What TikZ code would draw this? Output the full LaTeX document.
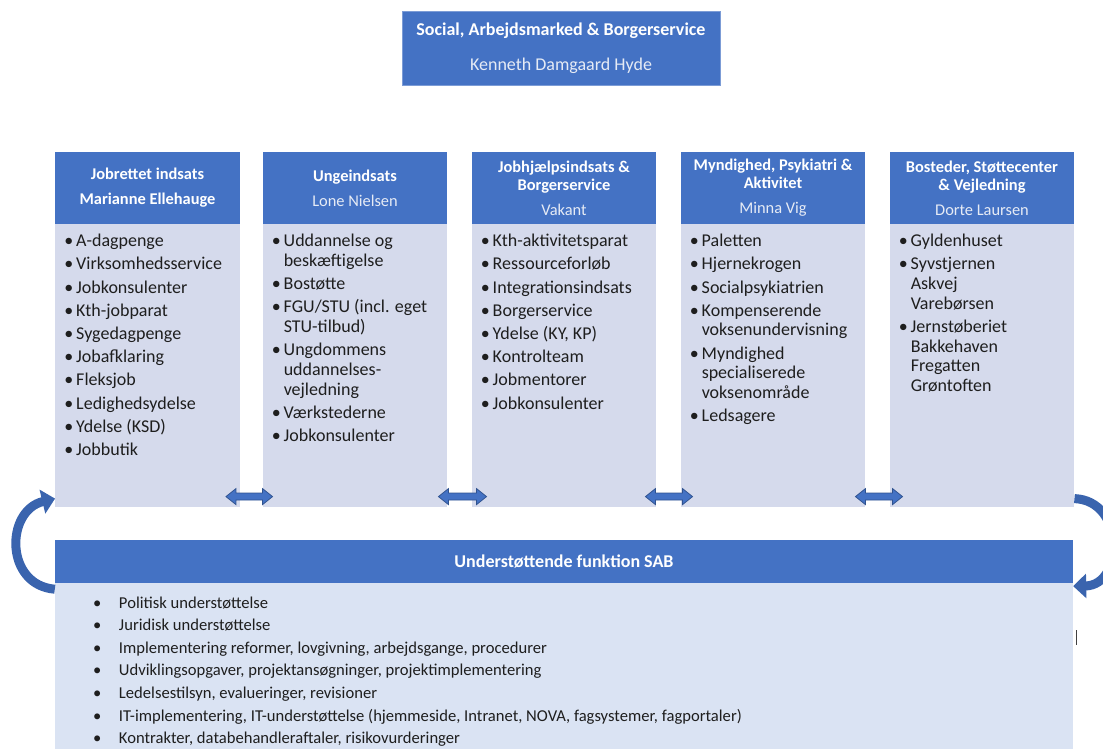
\documentclass[tikz,border=0pt]{standalone}
\usepackage{fontspec}
\setmainfont{Carlito}
\usepackage{xcolor}
\usepackage{tikz}
\usetikzlibrary{arrows.meta,positioning,calc}
\definecolor{headblue}{HTML}{4472C4}
\definecolor{colbody}{HTML}{D5DAEC}
\definecolor{sabbody}{HTML}{DAE3F3}
\definecolor{namecol}{HTML}{E6EBF5}
\definecolor{arrowblue}{HTML}{4472C4}
\definecolor{arrowdark}{HTML}{2F528F}
\definecolor{curveblue}{HTML}{3A64AE}
\definecolor{textdark}{HTML}{1E1E1E}
\newcommand{\bul}{\makebox[12pt][l]{\textbullet}}
\newcommand{\colitem}[1]{\par\noindent\hangindent=12pt\hangafter=1\bul#1\par}
\newcommand{\sabitem}[1]{\par\noindent\makebox[26pt][l]{\textbullet}#1\par}

\begin{document}
\begin{tikzpicture}[x=1pt,y=-1pt,
  colhead/.style={fill=headblue,text=white,minimum width=184.5pt,minimum height=72pt,
    align=center,inner sep=2pt,font=\fontsize{16.4}{18}\selectfont},
  colbox/.style={fill=colbody,minimum width=184.5pt,minimum height=283pt,anchor=north,inner sep=0pt},
  collist/.style={anchor=north west,text width=172pt,align=flush left,inner sep=0pt,text=textdark,
    font=\fontsize{18}{19.7}\selectfont\setlength{\parskip}{3.5pt}},
  sablist/.style={anchor=north west,text width=960pt,align=flush left,inner sep=0pt,text=textdark,
    font=\fontsize{16.6}{22.6}\selectfont},
  dblarrow/.style={fill=arrowblue,draw=arrowdark,line width=0.75pt,
    to path={let \p1=(\tikztostart), \p2=(\tikztotarget) in
      -- (\x1+10pt,\y1+8pt) -- (\x1+10pt,\y1+3.5pt) -- (\x2-10pt,\y1+3.5pt) -- (\x2-10pt,\y1+8pt)
      -- (\x2,\y1) -- (\x2-10pt,\y1-8pt) -- (\x2-10pt,\y1-3.5pt) -- (\x1+10pt,\y1-3.5pt)
      -- (\x1+10pt,\y1-8pt) -- cycle}},
  curvearrow/.style={draw=curveblue,line width=9pt,-{Triangle[width=24pt,length=13pt]}}]
  \useasboundingbox (0,0) rectangle (1103,749);
  \clip (0,0) rectangle (1103,749);

  % top box
  \node[fill=headblue,draw=headblue!70!white,text=white,minimum width=318pt,minimum height=74pt,
    align=center,font=\fontsize{18}{20}\selectfont] (sab) at (561,48)
    {\textbf{Social, Arbejdsmarked \& Borgerservice}\\[15pt] {\color{namecol}Kenneth Damgaard Hyde}};

  % columns
  \node[colhead] (h1) at (147.5,188) {\textbf{Jobrettet indsats}\\[7pt] \textbf{Marianne Ellehauge}};
  \node[colhead] (h2) at (355,188) {\textbf{Ungeindsats}\\[7pt] {\color{namecol}Lone Nielsen}};
  \node[colhead] (h3) at (564,188) {\textbf{Jobhjælpsindsats \&}\\ \textbf{Borgerservice}\\[7pt] {\color{namecol}Vakant}};
  \node[colhead] (h4) at (773,188) {\textbf{Myndighed, Psykiatri \&}\\ \textbf{Aktivitet}\\[7pt] {\color{namecol}Minna Vig}};
  \node[colhead] (h5) at (982,188) {\textbf{Bosteder, Støttecenter}\\ \textbf{\& Vejledning}\\[7pt] {\color{namecol}Dorte Laursen}};

  \node[colbox] (b1) at (h1.south) {};
  \node[colbox] (b2) at (h2.south) {};
  \node[colbox] (b3) at (h3.south) {};
  \node[colbox] (b4) at (h4.south) {};
  \node[colbox] (b5) at (h5.south) {};

  \node[collist] (l1) at ($(b1.north west)+(9,-1)$) {%
    \colitem{A-dagpenge}\colitem{Virksomhedsservice}\colitem{Jobkonsulenter}
    \colitem{Kth-jobparat}\colitem{Sygedagpenge}\colitem{Jobafklaring}\colitem{Fleksjob}
    \colitem{Ledighedsydelse}\colitem{Ydelse (KSD)}\colitem{Jobbutik}};
  \node[collist] (l2) at ($(b2.north west)+(9,-1)$) {%
    \colitem{Uddannelse og\newline beskæftigelse}\colitem{Bostøtte}
    \colitem{FGU/STU (incl. eget\newline STU-tilbud)}\colitem{Ungdommens\newline uddannelses-\newline vejledning}
    \colitem{Værkstederne}\colitem{Jobkonsulenter}};
  \node[collist] (l3) at ($(b3.north west)+(9,-1)$) {%
    \colitem{Kth-aktivitetsparat}\colitem{Ressourceforløb}\colitem{Integrationsindsats}
    \colitem{Borgerservice}\colitem{Ydelse (KY, KP)}\colitem{Kontrolteam}
    \colitem{Jobmentorer}\colitem{Jobkonsulenter}};
  \node[collist] (l4) at ($(b4.north west)+(9,-1)$) {%
    \colitem{Paletten}\colitem{Hjernekrogen}\colitem{Socialpsykiatrien}
    \colitem{Kompenserende\newline voksenundervisning}
    \colitem{Myndighed\newline specialiserede\newline voksenområde}\colitem{Ledsagere}};
  \node[collist] (l5) at ($(b5.north west)+(9,-1)$) {%
    \colitem{Gyldenhuset}\colitem{Syvstjernen\newline Askvej\newline Varebørsen}
    \colitem{Jernstøberiet\newline Bakkehaven\newline Fregatten\newline Grøntoften}};

  % support function
  \node[fill=headblue,text=white,minimum width=1018pt,minimum height=43pt,
    font=\fontsize{18}{20}\selectfont\bfseries] (sabhead) at (564,561.5) {Understøttende funktion SAB};
  \node[fill=sabbody,minimum width=1018pt,minimum height=200pt,anchor=north,inner sep=0pt]
    (sabmain) at (sabhead.south) {};
  \node[sablist] (l6) at ($(sabmain.north west)+(38,2)$) {%
    \sabitem{Politisk understøttelse}\sabitem{Juridisk understøttelse}
    \sabitem{Implementering reformer, lovgivning, arbejdsgange, procedurer}
    \sabitem{Udviklingsopgaver, projektansøgninger, projektimplementering}
    \sabitem{Ledelsestilsyn, evalueringer, revisioner}
    \sabitem{IT-implementering, IT-understøttelse (hjemmeside, Intranet, NOVA, fagsystemer, fagportaler)}
    \sabitem{Kontrakter, databehandleraftaler, risikovurderinger}};

  % arrows
  \draw[dblarrow] ($(b1.south east)+(-14,-11)$) to ($(b2.south west)+(10,-11)$);
  \draw[dblarrow] ($(b2.south east)+(-9,-11)$) to ($(b3.south west)+(15,-11)$);
  \draw[dblarrow] ($(b3.south east)+(-11,-11)$) to ($(b4.south west)+(12,-11)$);
  \draw[dblarrow] ($(b4.south east)+(-10,-11)$) to ($(b5.south west)+(13,-11)$);
  \draw[curvearrow] ($(sabhead.south west)+(0,6)$) .. controls +(-50,-4) and +(-50,12) .. ($(b1.south west)+(0,-9)$);
  \draw[curvearrow] ($(b5.south east)+(0,-9)$) .. controls +(51,2) and +(51,-1) .. ($(sabhead.south east)+(0,3)$);
  \draw[line width=1pt,black!75] (1076,630) -- (1076,645);
\end{tikzpicture}
\end{document}
